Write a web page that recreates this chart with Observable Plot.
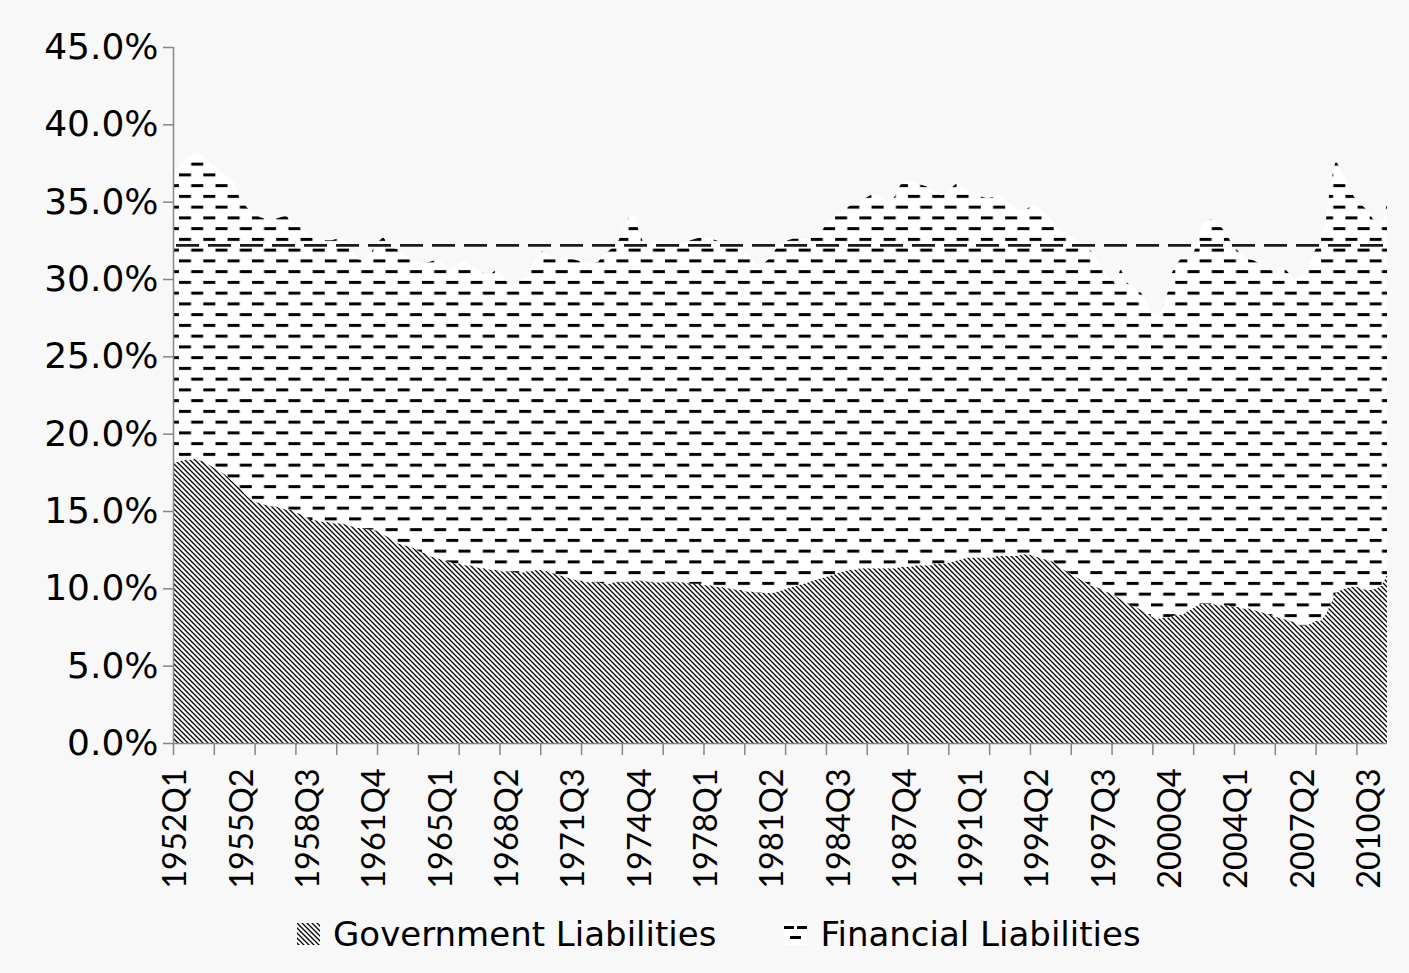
<!DOCTYPE html>
<html>
<head>
<meta charset="utf-8">
<script src="https://cdn.jsdelivr.net/npm/d3@7"></script>
<script src="https://cdn.jsdelivr.net/npm/@observablehq/plot@0.6"></script>
<style>
  html, body { margin: 0; padding: 0; background: #ffffff; }
  #frame { position: absolute; left: 0; top: 0; width: 1409px; height: 973px; background: #f8f8f8; }
  #legend { position: absolute; left: 297px; top: 914px; height: 40px; display: flex; align-items: center; font-family: "DejaVu Sans", sans-serif; font-size: 34px; color: #000; white-space: nowrap; }
  .item { display: flex; align-items: center; }
  .item svg { margin-right: 13px; }
</style>
</head>
<body>
<div id="frame">
  <div id="chart"></div>
  <div id="legend"></div>
</div>
<script>
// ---- data (percent of total, quarterly 1952Q1 .. 2011Q2) ----
const seriesNames = ["Government Liabilities", "Financial Liabilities"];

const government = [
  18.1, 18.2, 18.3, 18.3, 18.4, 18.3, 18.2, 18.0, 17.8, 17.6, 17.4, 17.1,
  16.8, 16.5, 16.1, 15.8, 15.6, 15.5, 15.4, 15.3, 15.3, 15.2, 15.1, 15.1,
  14.9, 14.8, 14.6, 14.4, 14.4, 14.3, 14.3, 14.2, 14.2, 14.2, 14.1, 14.0,
  13.9, 13.9, 13.8, 13.8, 13.7, 13.5, 13.3, 13.1, 12.9, 12.8, 12.7, 12.6,
  12.4, 12.3, 12.1, 12.0, 11.9, 11.8, 11.7, 11.6, 11.6, 11.5, 11.5, 11.4,
  11.3, 11.3, 11.2, 11.2, 11.1, 11.1, 11.1, 11.0, 11.0, 11.1, 11.1, 11.2,
  11.2, 11.1, 11.0, 10.9, 10.8, 10.7, 10.6, 10.5, 10.5, 10.4, 10.4, 10.4,
  10.3, 10.3, 10.4, 10.4, 10.4, 10.4, 10.5, 10.5, 10.5, 10.4, 10.4, 10.4,
  10.4, 10.4, 10.4, 10.4, 10.4, 10.3, 10.3, 10.3, 10.2, 10.2, 10.1, 10.1,
  10.0, 10.0, 9.9, 9.9, 9.8, 9.8, 9.7, 9.7, 9.7, 9.7, 9.8, 9.9,
  10.0, 10.1, 10.2, 10.3, 10.4, 10.5, 10.6, 10.7, 10.8, 10.9, 11.0, 11.1,
  11.2, 11.2, 11.3, 11.3, 11.3, 11.3, 11.3, 11.3, 11.3, 11.3, 11.4, 11.4,
  11.4, 11.5, 11.5, 11.5, 11.5, 11.6, 11.6, 11.6, 11.7, 11.8, 11.9, 12.0,
  12.0, 12.0, 12.0, 12.0, 12.0, 12.1, 12.1, 12.1, 12.1, 12.1, 12.2, 12.2,
  12.1, 12.0, 11.9, 11.8, 11.7, 11.4, 11.2, 11.0, 10.8, 10.6, 10.4, 10.2,
  10.1, 10.0, 9.8, 9.7, 9.5, 9.3, 9.1, 8.9, 8.8, 8.6, 8.4, 8.2,
  8.0, 8.1, 8.1, 8.2, 8.3, 8.3, 8.5, 8.7, 8.9, 9.0, 9.0, 9.0,
  8.9, 8.9, 8.9, 8.8, 8.8, 8.7, 8.7, 8.6, 8.5, 8.4, 8.3, 8.2,
  8.1, 8.0, 7.9, 7.8, 7.6, 7.6, 7.7, 7.9, 7.9, 8.3, 9.0, 9.7,
  9.9, 10.0, 10.1, 10.1, 10.0, 9.9, 9.9, 10.0, 10.2, 10.9
];

const financial = [
  18.8, 19.0, 19.3, 19.6, 19.7, 19.9, 19.7, 19.6, 19.5, 19.4, 19.4, 19.4,
  19.4, 18.7, 18.7, 18.6, 18.6, 18.5, 18.5, 18.5, 18.6, 18.8, 19.0, 18.7,
  18.6, 18.5, 18.4, 18.3, 18.2, 18.2, 18.2, 18.3, 18.4, 18.5, 18.2, 17.8,
  17.4, 17.3, 17.5, 18.1, 18.7, 19.2, 19.0, 18.9, 19.0, 18.8, 18.7, 18.6,
  18.7, 18.7, 19.0, 19.2, 19.3, 19.1, 18.9, 19.3, 19.5, 19.7, 19.4, 19.3,
  19.2, 19.0, 19.1, 19.4, 19.2, 18.8, 18.5, 18.8, 19.0, 19.0, 19.6, 20.2,
  20.6, 20.5, 20.4, 20.3, 20.5, 20.6, 20.7, 20.7, 20.6, 20.6, 20.6, 20.7,
  21.3, 21.5, 21.7, 22.1, 22.9, 23.6, 23.7, 22.5, 21.7, 21.7, 22.1, 22.0,
  21.9, 21.9, 21.9, 21.9, 22.0, 22.2, 22.3, 22.4, 22.5, 22.4, 22.4, 22.3,
  22.3, 22.1, 22.1, 21.9, 21.9, 21.5, 21.2, 21.2, 21.5, 21.9, 22.3, 22.4,
  22.5, 22.5, 22.4, 22.3, 22.2, 22.2, 22.4, 22.6, 22.9, 23.1, 23.3, 23.4,
  23.5, 23.7, 23.7, 23.9, 24.1, 24.2, 24.1, 23.8, 23.6, 24.1, 24.7, 24.9,
  24.9, 24.7, 24.6, 24.5, 24.3, 24.0, 23.8, 24.0, 24.2, 24.4, 24.1, 23.7,
  23.5, 23.4, 23.3, 23.2, 23.3, 23.3, 23.2, 22.9, 22.6, 22.4, 22.2, 22.4,
  22.7, 22.6, 22.4, 22.2, 21.9, 21.8, 21.8, 21.8, 21.8, 21.8, 21.8, 21.7,
  21.4, 20.8, 20.6, 20.4, 20.2, 21.4, 20.7, 20.7, 20.5, 20.5, 20.2, 19.6,
  19.7, 19.9, 20.8, 22.2, 22.7, 23.1, 22.9, 22.7, 23.6, 24.6, 24.8, 24.9,
  24.7, 24.3, 23.8, 23.3, 23.0, 22.8, 22.6, 22.6, 22.5, 22.4, 22.3, 22.3,
  22.5, 22.7, 22.4, 22.1, 22.6, 22.8, 23.4, 24.0, 24.6, 25.3, 27.2, 28.0,
  27.1, 26.4, 25.5, 25.0, 24.8, 24.6, 24.1, 23.5, 23.6, 23.9
];

// horizontal dashed reference line (average of the total)
const referenceLevel = [32.2];

// axis ticks
const yTicks = [0, 5, 10, 15, 20, 25, 30, 35, 40, 45];
const tickLabels = ["1952Q1","1955Q2","1958Q3","1961Q4","1965Q1","1968Q2","1971Q3",
  "1974Q4","1978Q1","1981Q2","1984Q3","1987Q4","1991Q1","1994Q2","1997Q3",
  "2000Q4","2004Q1","2007Q2","2010Q3"];

// ---- build table ----
const quarters = [];
for (let y = 1952; y <= 2011; y++) for (let q = 1; q <= 4; q++) quarters.push(y + "Q" + q);
const n = government.length;                 // 238 quarters
const cats = quarters.slice(0, n);
const stretch = n / (n - 1);
const rows = cats.map((c, i) => ({ q: c, x: i * stretch, gov: government[i], fin: financial[i], top: government[i] + financial[i] }));

const labelPos = tickLabels.map(l => cats.indexOf(l) + 0.5);
const labelMap = new Map(labelPos.map((p, k) => [p, tickLabels[k]]));
const minorTicks = d3.range(0, n, 8);

const axisGray = "#868686";

const chart = Plot.plot({
  width: 1409,
  height: 900,
  marginLeft: 173,
  marginRight: 22,
  marginTop: 47,
  marginBottom: 157,
  style: { fontFamily: "Lato, sans-serif", fontSize: "32.5px", color: "#000", background: "transparent", overflow: "visible" },
  x: { type: "linear", domain: [0, n], axis: null },
  y: { domain: [0, 45], axis: null },
  marks: [
    Plot.areaY(rows, { x: "x", y1: 0, y2: "gov", fill: "url(#hatchGov)", curve: "linear" }),
    Plot.areaY(rows, { x: "x", y1: "gov", y2: "top", fill: "url(#hatchFin)", curve: "linear" }),
    Plot.ruleY(referenceLevel, { stroke: "#1a1a1a", strokeWidth: 2.7, strokeDasharray: "23,9", strokeDashoffset: 29 }),
    Plot.ruleX([0], { stroke: axisGray, strokeWidth: 1.5 }),
    Plot.ruleY([0], { stroke: axisGray, strokeWidth: 1.5 }),
    Plot.axisY({ ticks: yTicks, tickFormat: d => d.toFixed(1) + "%", tickSize: 10, tickPadding: 5, stroke: axisGray, fill: "#000", strokeWidth: 1.5, label: null, fontFamily: "DejaVu Sans, sans-serif", fontSize: 36 }),
    Plot.axisX({ ticks: minorTicks, tickFormat: () => "", tickSize: 12, stroke: axisGray, strokeWidth: 1.5, label: null }),
    Plot.axisX({ ticks: labelPos, tickFormat: d => labelMap.get(d), tickRotate: -90, tickSize: 0, tickPadding: 25, fill: "#000", label: null })
  ]
});

// patterns
const govTile = `<rect width="5" height="5" fill="#fff"/><path d="M-1,-1 L6,6 M-1,4 L1,6 M4,-1 L6,1" stroke="#000" stroke-width="1.3"/>`;
const defs = `
<defs>
  <pattern id="hatchGov" patternUnits="userSpaceOnUse" width="5" height="5">${govTile}</pattern>
  <pattern id="hatchFin" patternUnits="userSpaceOnUse" width="24.3" height="21.5" x="8.9" y="1.4">
    <rect width="24.3" height="21.5" fill="#fff"/>
    <rect x="0" y="0" width="12" height="3" fill="#000"/>
    <rect x="12.2" y="10.75" width="12" height="3" fill="#000"/>
  </pattern>
</defs>`;
chart.insertAdjacentHTML("afterbegin", defs);
document.getElementById("chart").appendChild(chart);

// legend
const legend = document.getElementById("legend");
const swatches = [
  { name: seriesNames[0], svg: `<svg width="23" height="22"><defs><pattern id="lgGov" patternUnits="userSpaceOnUse" width="5" height="5">${govTile}</pattern></defs><rect width="23" height="22" fill="url(#lgGov)"/></svg>` },
  { name: seriesNames[1], svg: `<svg width="23" height="22"><rect width="23" height="22" fill="#fff"/><rect x="0" y="3" width="10" height="3" fill="#000"/><rect x="13" y="3" width="10" height="3" fill="#000"/><rect x="6" y="13" width="11" height="3" fill="#000"/></svg>` }
];
swatches.forEach((s, k) => {
  const it = document.createElement("div");
  it.className = "item";
  if (k > 0) it.style.marginLeft = "68px";
  it.innerHTML = s.svg + `<span>${s.name}</span>`;
  legend.appendChild(it);
});
</script>
</body>
</html>
